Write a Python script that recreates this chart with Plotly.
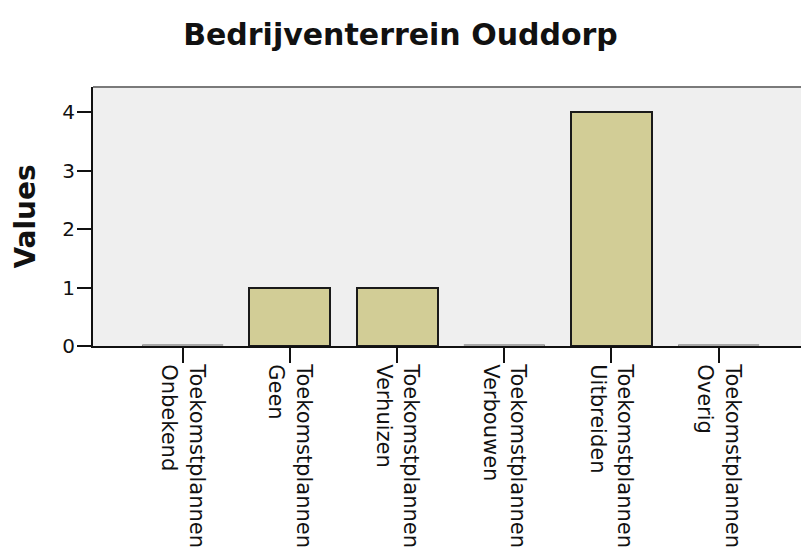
import plotly.graph_objects as go

title = "Bedrijventerrein Ouddorp"
y_title = "Values"
categories = ["Toekomstplannen Onbekend", "Toekomstplannen Geen", "Toekomstplannen Verhuizen",
              "Toekomstplannen Verbouwen", "Toekomstplannen Uitbreiden", "Toekomstplannen Overig"]
tick_labels = ["Toekomstplannen<br>Onbekend", "Toekomstplannen<br>Geen", "Toekomstplannen<br>Verhuizen",
               "Toekomstplannen<br>Verbouwen", "Toekomstplannen<br>Uitbreiden", "Toekomstplannen<br>Overig"]
values = [0, 1, 1, 0, 4, 0]
y_ticks = [0, 1, 2, 3, 4]

positions = list(range(len(categories)))
bar_width = 0.755

fig = go.Figure()
fig.add_trace(go.Bar(
    x=positions, y=values, width=bar_width,
    marker=dict(color="#d2cd96", line=dict(color="#1a1a1a", width=2)),
    hovertext=categories, showlegend=False,
))

# zero-valued bars render as a faint outline on the baseline
for p, v in zip(positions, values):
    if v == 0:
        fig.add_trace(go.Scatter(
            x=[p - bar_width / 2, p + bar_width / 2], y=[v, v], mode="lines",
            line=dict(color="#a8a8a8", width=4), cliponaxis=False,
            showlegend=False, hoverinfo="skip",
        ))

fig.update_layout(
    width=801, height=558,
    margin=dict(l=93, r=0, t=87, b=212, autoexpand=False),
    paper_bgcolor="white",
    plot_bgcolor="#efefef",
    bargap=0,
    title=dict(text="<b>" + title + "</b>", x=0.5, xref="container", xanchor="center",
               y=1 - 34 / 558, yref="container", yanchor="middle",
               font=dict(family="DejaVu Sans", size=30, color="#111111")),
    font=dict(family="DejaVu Sans", color="#111111"),
    shapes=[dict(type="line", xref="paper", yref="paper", x0=0, x1=1, y0=1, y1=1,
                 line=dict(color="#7a7a7a", width=2))],
)

fig.update_xaxes(
    automargin=False,
    range=[-0.837, 5.768],
    tickmode="array", tickvals=positions, ticktext=tick_labels,
    tickangle=90, tickfont=dict(family="DejaVu Sans", size=21, color="#111111"),
    ticks="outside", ticklen=15, tickwidth=2, tickcolor="#111111",
    ticklabelstandoff=-3,
    showline=True, linecolor="#111111", linewidth=2,
    showgrid=False, zeroline=False,
)
fig.update_yaxes(
    automargin=False,
    range=[0, 4.43],
    tickmode="array", tickvals=y_ticks, ticktext=[str(t) for t in y_ticks],
    tickfont=dict(family="DejaVu Sans", size=20, color="#111111"),
    ticks="outside", ticklen=14, tickwidth=2, tickcolor="#111111",
    ticklabelstandoff=-2,
    showline=True, linecolor="#111111", linewidth=2,
    showgrid=False, zeroline=False,
    title=dict(text="<b>" + y_title + "</b>", standoff=18,
               font=dict(family="DejaVu Sans", size=28, color="#111111")),
)

fig.write_html("out.html", config={"displayModeBar": False},
               post_script="document.body.style.margin='0px';document.body.style.overflow='hidden';")
